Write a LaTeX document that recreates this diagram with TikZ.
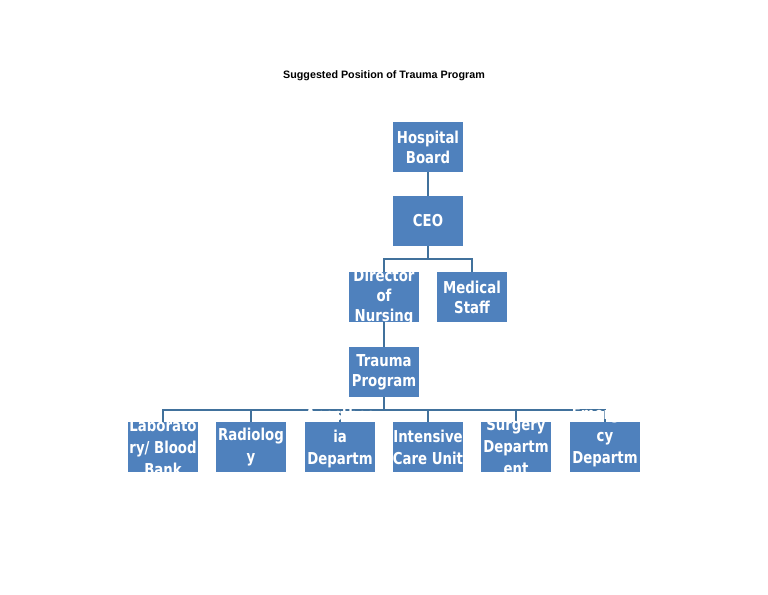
\documentclass[tikz,border=0pt]{standalone}
\usepackage{fontspec}
\setmainfont{DejaVu Sans Condensed}[FakeStretch=0.9]
\newfontfamily\titlefont{Liberation Sans}
\definecolor{boxblue}{HTML}{4F81BD}
\definecolor{lineblue}{HTML}{41719C}
\begin{document}
\begin{tikzpicture}[x=0.75pt,y=-0.75pt,
  orgbox/.style={fill=boxblue,draw=none,minimum width=52.5pt,minimum height=37.5pt,inner sep=0pt},
  orgtext/.style={text=white,font=\bfseries\fontsize{12.3}{15}\selectfont,align=center,inner sep=0pt},
  lowtext/.style={orgtext,font=\bfseries\fontsize{12.3}{16.5}\selectfont},
  link/.style={draw=lineblue,line width=1.5pt}]
\useasboundingbox (0,0) rectangle (768,594);
\node[font=\titlefont\bfseries\fontsize{8.05}{9}\selectfont] (title) at (384,76) {Suggested Position of Trauma Program};
% boxes
\node[orgbox] (hb) at (428,147) {};
\node[orgbox] (ceo) at (428,221) {};
\node[orgbox] (dn) at (384,297) {};
\node[orgbox] (ms) at (472,297) {};
\node[orgbox] (tp) at (384,372) {};
\node[orgbox] (lab) at (163,447) {};
\node[orgbox] (rad) at (251,447) {};
\node[orgbox] (ane) at (340,447) {};
\node[orgbox] (icu) at (428,447) {};
\node[orgbox] (sur) at (516,447) {};
\node[orgbox] (eme) at (605,447) {};
% connectors
\coordinate (j1) at (428,259);
\coordinate (j2) at (384,410);
\draw[link] (hb.south) -- (ceo.north);
\draw[link] (ceo.south) -- (j1) -| (dn.north);
\draw[link] (j1) -| (ms.north);
\draw[link] (dn.south) -- (tp.north);
\draw[link] (tp.south) -- (j2) -| (lab.north);
\draw[link] (j2) -| (rad.north);
\draw[link] (j2) -| (ane.north);
\draw[link] (j2) -| (icu.north);
\draw[link] (j2) -| (sur.north);
\draw[link] (j2) -| (eme.north);
% texts
\node[orgtext] at (hb) {Hospital\\Board};
\node[orgtext] at (ceo) {CEO};
\node[orgtext] at (dn) {Director\\of\\Nursing};
\node[orgtext] at (ms) {Medical\\Staff};
\node[orgtext] at (tp) {Trauma\\Program};
\node[lowtext] at (lab) {Laborato\\ry/ Blood\\Bank};
\node[lowtext] at (rad) {Radiolog\\y};
\node[lowtext] at (ane) {Anesthes\\ia\\Departm\\ent};
\node[lowtext] at (icu) {Intensive\\Care Unit};
\node[lowtext] at (sur) {Surgery\\Departm\\ent};
\node[lowtext] at (eme) {Emergen\\cy\\Departm\\ent};
\end{tikzpicture}
\end{document}
